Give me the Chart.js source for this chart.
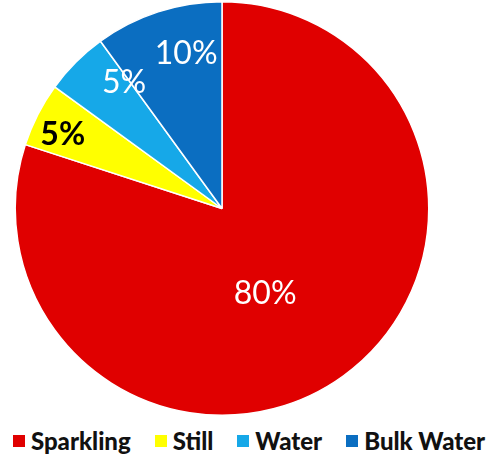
<!DOCTYPE html>
<html>
<head>
<meta charset="utf-8">
<script src="https://cdn.jsdelivr.net/npm/chart.js@4.4.1/dist/chart.umd.min.js"></script>
<style>
  html, body { margin: 0; padding: 0; background: #fff; }
  .wrap { position: relative; width: 498px; height: 456px; }
  #pie { position: absolute; left: 0; top: 0; }
  .legend {
    position: absolute; left: 0; top: 426px; width: 498px;
    display: flex; justify-content: center; gap: 24px;
    font-family: Lato, "Open Sans", sans-serif; font-weight: 900; font-size: 24px;
    color: #111; line-height: 30px;
  }
  .legend span.item { display: flex; align-items: center; white-space: nowrap; }
  .legend i { display: inline-block; width: 12px; height: 12px; margin-right: 6px; }
</style>
</head>
<body>
<div class="wrap">
  <canvas id="pie" width="498" height="418"></canvas>
  <div class="legend" id="legend"></div>
</div>
<script>
// data
var categories = ['Sparkling', 'Still', 'Water', 'Bulk Water'];
var shares = [80, 5, 5, 10];
var sliceColors = ['#E00000', '#FFFF00', '#16A8E8', '#0B6EC1'];
var labelColors = ['#ffffff', '#000000', '#ffffff', '#ffffff'];
var labelBold = [false, true, false, false];
// where each % label sits: fraction of radius, and a small turn (degrees) off the slice middle
var labelDist = [0.46, 0.85, 0.77, 0.77];
var labelTurn = [9, -2, 7, 5];

// draw the % text on each slice
var sliceLabels = {
  id: 'sliceLabels',
  afterDatasetsDraw: function(chart) {
    var ctx = chart.ctx;
    var arcs = chart.getDatasetMeta(0).data;
    ctx.save();
    ctx.textAlign = 'center';
    ctx.textBaseline = 'middle';
    arcs.forEach(function(arc, i) {
      var mid = (arc.startAngle + arc.endAngle) / 2 + labelTurn[i] * Math.PI / 180;
      var r = arc.outerRadius * labelDist[i];
      var x = arc.x + Math.cos(mid) * r;
      var y = arc.y + Math.sin(mid) * r;
      ctx.font = (labelBold[i] ? 'bold ' : '') + '32px Lato, "Open Sans", sans-serif';
      ctx.fillStyle = labelColors[i];
      ctx.fillText(shares[i] + '%', x, y);
    });
    ctx.restore();
  }
};

var ctx = document.getElementById('pie').getContext('2d');
var chart = new Chart(ctx, {
  type: 'pie',
  data: {
    labels: categories,
    datasets: [{
      data: shares,
      backgroundColor: sliceColors,
      borderColor: '#ffffff',
      borderWidth: 1.5,
      hoverOffset: 0
    }]
  },
  options: {
    responsive: false,
    animation: false,
    layout: { padding: { left: 14, right: 68, top: 1, bottom: 2 } },
    plugins: {
      legend: { display: false },
      tooltip: { enabled: false }
    }
  },
  plugins: [sliceLabels]
});

// html legend
var legendBox = document.getElementById('legend');
chart.options.plugins.legend.labels.generateLabels(chart).forEach(function(item) {
  var span = document.createElement('span');
  span.className = 'item';
  var box = document.createElement('i');
  box.style.background = item.fillStyle;
  span.appendChild(box);
  span.appendChild(document.createTextNode(item.text));
  legendBox.appendChild(span);
});
</script>
</body>
</html>
